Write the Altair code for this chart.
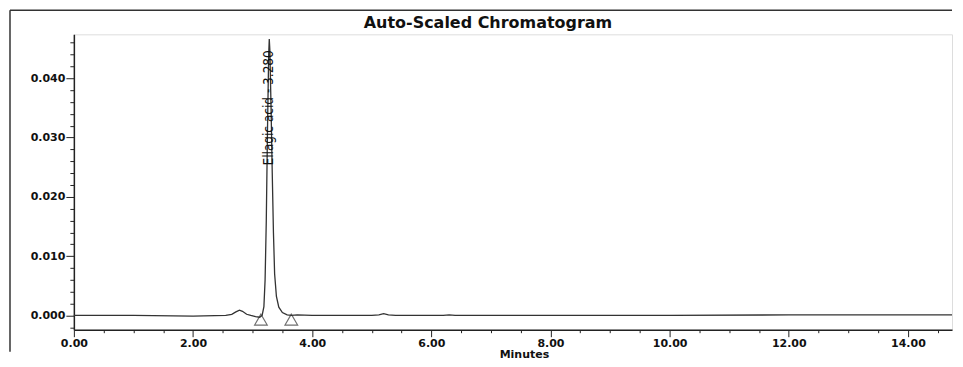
import altair as alt
import pandas as pd

# --- chromatogram trace (minutes, AU) ---
time_min = [0.00, 1.00, 2.00, 2.55, 2.65, 2.72, 2.78, 2.83, 2.90, 2.97, 3.05, 3.12,
            3.16, 3.19, 3.21, 3.23, 3.25, 3.27, 3.28, 3.29, 3.31, 3.33, 3.35, 3.37,
            3.40, 3.44, 3.50, 3.58, 3.65, 3.75, 4.00, 5.00, 5.12, 5.20, 5.28, 5.40,
            6.20, 6.30, 6.40, 8.00, 10.00, 12.00, 13.00, 14.74]
absorbance = [0.0000, 0.0000, -0.0001, 0.0000, 0.0002, 0.0006, 0.0009, 0.0007, 0.0002, 0.0000, -0.0002, -0.0003,
              0.0000, 0.0015, 0.0060, 0.0160, 0.0310, 0.0440, 0.0466, 0.0447, 0.0350, 0.0240, 0.0140, 0.0070,
              0.0032, 0.0014, 0.0005, 0.0001, 0.0000, 0.0001, 0.0000, 0.0000, 0.0001, 0.0003, 0.0001, 0.0000,
              0.0000, 0.0001, 0.0000, 0.0000, 0.0000, 0.0001, 0.0001, 0.0001]

# --- integration markers (peak start / end) ---
marker_time = [3.14, 3.65]
marker_abs = [-0.0007, -0.0007]

# --- peak label ---
peak_label = ["Ellagic acid - 3.280"]
peak_time = [3.28]
peak_label_y = [0.0350]

# --- axis ticks ---
x_ticks = [0.0, 0.5, 1.0, 1.5, 2.0, 2.5, 3.0, 3.5, 4.0, 4.5, 5.0, 5.5, 6.0, 6.5, 7.0, 7.5,
           8.0, 8.5, 9.0, 9.5, 10.0, 10.5, 11.0, 11.5, 12.0, 12.5, 13.0, 13.5, 14.0, 14.5]
y_ticks = [-0.002, 0.000, 0.002, 0.004, 0.006, 0.008, 0.010, 0.012, 0.014, 0.016, 0.018,
           0.020, 0.022, 0.024, 0.026, 0.028, 0.030, 0.032, 0.034, 0.036, 0.038, 0.040,
           0.042, 0.044, 0.046]

W, H = 880, 296
LABEL_FONT = "DejaVu Sans"

trace = pd.DataFrame({"t": time_min, "v": absorbance})
markers = pd.DataFrame({"t": marker_time, "v": marker_abs})
labels = pd.DataFrame({"t": peak_time, "v": peak_label_y, "label": peak_label})

xscale = alt.Scale(domain=[0, 14.74], nice=False, zero=False)
yscale = alt.Scale(domain=[-0.0024, 0.0474], nice=False, zero=False)

XMAJOR = "abs(datum.value % 2) < 0.001"
YMAJOR = "abs(datum.value*100 - round(datum.value*100)) < 0.001"

xaxis = alt.Axis(
    values=x_ticks, tickCount=200,
    labelExpr=XMAJOR + " ? format(datum.value, '.2f') : ''",
    tickSize={"condition": {"test": XMAJOR, "value": 7}, "value": 3},
    labelFlush=False, labelOverlap=False,
    labelFont=LABEL_FONT, labelFontSize=11, labelFontWeight="bold", labelColor="#111",
    labelPadding=1,
    title="Minutes", titleFont=LABEL_FONT, titleFontSize=11, titleFontWeight="bold",
    titleColor="#111", titlePadding=0, titleX=W / 2 + 11,
    domainColor="#222", domainWidth=1.5, tickColor="#222", tickWidth=1, grid=False,
)
yaxis = alt.Axis(
    values=y_ticks, tickCount=200,
    labelExpr=YMAJOR + " ? format(datum.value, '.3f') : ''",
    tickSize={"condition": {"test": YMAJOR, "value": 8}, "value": 4},
    labelOverlap=False,
    labelFont=LABEL_FONT, labelFontSize=11, labelFontWeight="bold", labelColor="#111",
    labelPadding=1,
    title=None, domainColor="#222", domainWidth=1.5, tickColor="#222", tickWidth=1, grid=False,
)

line = alt.Chart(trace).mark_line(color="#333", strokeWidth=1.3).encode(
    x=alt.X("t:Q", scale=xscale, axis=xaxis),
    y=alt.Y("v:Q", scale=yscale, axis=yaxis),
)

tri = alt.Chart(markers).mark_point(
    shape="triangle-up", filled=False, size=160, color="#333", strokeWidth=1.2
).encode(x=alt.X("t:Q", scale=xscale), y=alt.Y("v:Q", scale=yscale))

txt = alt.Chart(labels).mark_text(
    angle=270, font="Liberation Sans Narrow, DejaVu Sans Condensed, Liberation Sans",
    fontSize=13.5, color="#111", align="center", baseline="middle"
).encode(x=alt.X("t:Q", scale=xscale), y=alt.Y("v:Q", scale=yscale), text="label:N")

# photo frame lines around the printout
frame_top = alt.Chart(labels).mark_rule(color="#333", strokeWidth=1.5).encode(
    x=alt.value(-64), x2=alt.value(W), y=alt.value(-24))
frame_left = alt.Chart(labels).mark_rule(color="#333", strokeWidth=1.5).encode(
    x=alt.value(-64), y=alt.value(-24), y2=alt.value(H + 22))

chart = alt.layer(frame_top, frame_left, line, tri, txt).properties(
    width=W, height=H,
    title=alt.TitleParams("Auto-Scaled Chromatogram", font=LABEL_FONT, fontSize=16,
                          fontWeight="bold", color="#111", anchor="middle", frame="group",
                          dx=-25, offset=-21),
    padding={"left": 1, "top": 1, "right": 0, "bottom": 0},
).configure_view(stroke="#222", strokeWidth=1.5).configure(background="white")

chart.save("out.html", embed_options={"renderer": "svg", "actions": False})
